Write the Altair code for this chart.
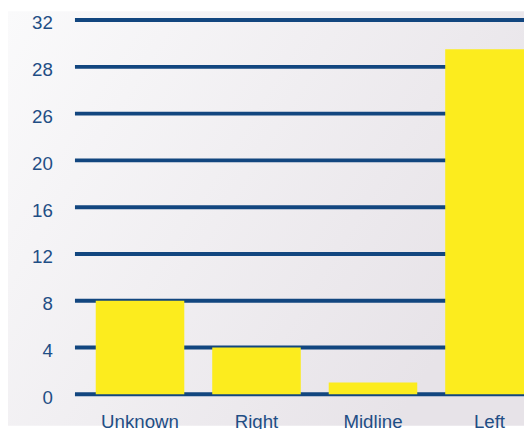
import altair as alt
import pandas as pd

categories = ["Unknown", "Right", "Midline", "Left"]
values = [8, 4, 1, 29.5]
tick_values = [0, 4, 8, 12, 16, 20, 26, 28, 32]

H = 380
W = 457
step = H / (len(tick_values) - 1)
y_range = [H - i * step for i in range(len(tick_values))]

yscale = alt.Scale(domain=tick_values, range=y_range, nice=False, zero=False)

bars_df = pd.DataFrame({"cat": categories, "val": values})
grid_df = pd.DataFrame({"v": tick_values})
bg_df = pd.DataFrame({"a": [0]})

text_color = "#1f4e85"
grid_color = "#12467f"

bg = alt.Chart(bg_df).mark_rect(
    color=alt.Gradient(
        gradient="linear",
        stops=[alt.GradientStop(color="#fafafb", offset=0),
               alt.GradientStop(color="#e7e3e8", offset=1)],
        x1=0, y1=0, x2=1, y2=0.5,
    )
).encode(
    x=alt.value(-67), x2=alt.value(W), y=alt.value(-9), y2=alt.value(H + 32)
)

grid = alt.Chart(grid_df).mark_rule(color=grid_color, strokeWidth=4).encode(
    y=alt.Y(
        "v:Q",
        scale=yscale,
        axis=alt.Axis(values=tick_values, grid=False, domain=False, ticks=False,
                      labelPadding=22, title=None, labelOffset=3, zindex=2),
    ),
    x=alt.value(1),
    x2=alt.value(490),
)

bars = alt.Chart(bars_df).mark_bar(color="#fcec1e", y2Offset=-4).encode(
    x=alt.X(
        "cat:N",
        sort=categories,
        scale=alt.Scale(range=[2, 487], paddingInner=0.24, paddingOuter=0.17),
        axis=alt.Axis(domain=False, ticks=False, labelPadding=19, title=None,
                      labelAngle=0, zindex=2),
    ),
    y=alt.Y("val:Q", scale=yscale),
)

chart = alt.layer(bg, grid, bars).properties(
    width=W,
    height=H,
    autosize=alt.AutoSizeParams(type="none"),
    padding={"left": 67, "top": 9, "right": 0, "bottom": 32},
).configure_view(stroke=None).configure_axis(
    labelFont="Liberation Sans",
    labelFontSize=19,
    labelColor=text_color,
)

chart.save("out.html", embed_options={"renderer": "svg", "actions": False})
